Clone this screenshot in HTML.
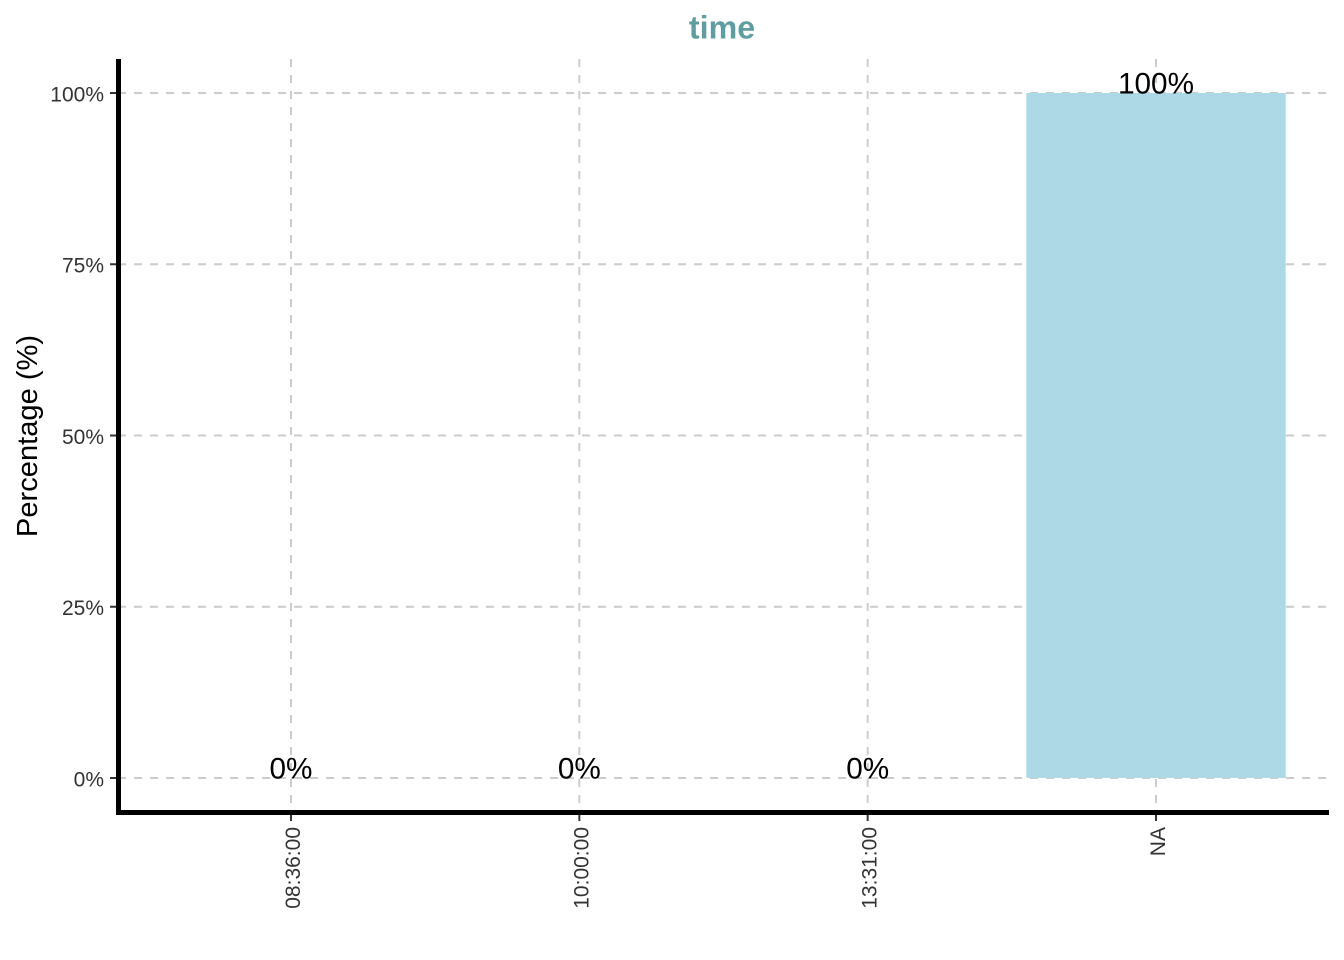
<!DOCTYPE html>
<html>
<head>
<meta charset="utf-8">
<title>time</title>
<style>
html,body{margin:0;padding:0;background:#fff;width:1344px;height:960px;overflow:hidden}
svg{display:block}
text{font-family:"Liberation Sans",sans-serif}
</style>
</head>
<body>
<svg id="chart" width="1344" height="960" viewBox="0 0 1344 960" xmlns="http://www.w3.org/2000/svg">
  <rect x="0" y="0" width="1344" height="960" fill="#ffffff"/>
  <text x="722" y="38.5" font-size="32.2" font-weight="bold" fill="#5f9ea0" text-anchor="middle">time</text>
  <text transform="translate(37,436) rotate(-90)" font-size="29.1" fill="#000000" text-anchor="middle">Percentage (%)</text>
  <g id="grid"></g>
  <g id="bars"></g>
  <g id="labels"></g>
  <g id="ticks"></g>
  <line x1="118.5" y1="59" x2="118.5" y2="815" stroke="#000000" stroke-width="5"/>
  <line x1="116" y1="812.5" x2="1329" y2="812.5" stroke="#000000" stroke-width="5"/>
</svg>
<script>
const categories = ['08:36:00', '10:00:00', '13:31:00', 'NA'];
const percentages = [0, 0, 0, 100];
const yTicks = [0, 25, 50, 75, 100];

const NS = 'http://www.w3.org/2000/svg';
const panelLeft = 118, panelRight = 1329, panelTop = 59, panelBottom = 812.5;
const unit = (panelRight - panelLeft) / (categories.length - 1 + 1.2);
function xScale(i) { return panelLeft + (0.6 + i) * unit; }
function yScale(v) { return 778 - (v / 100) * 685; }
function make(tag, attrs, parent) {
  const el = document.createElementNS(NS, tag);
  for (const k in attrs) el.setAttribute(k, attrs[k]);
  parent.appendChild(el);
  return el;
}
const grid = document.getElementById('grid');
const bars = document.getElementById('bars');
const labels = document.getElementById('labels');
const ticks = document.getElementById('ticks');
const gridStyle = { stroke: '#cccccc', 'stroke-width': 2, 'stroke-dasharray': '8 8' };

yTicks.forEach(function (t) {
  const y = yScale(t);
  const line = make('line', Object.assign({ x1: panelLeft, x2: panelRight, y1: y, y2: y }, gridStyle), grid);
  
  
  const tick = make('line', { x1: 110, x2: 116, y1: y, y2: y, stroke: '#333333', 'stroke-width': 2 }, ticks);
  
  
  const label = make('text', { x: 104, y: y + 8.3, 'font-size': 21, fill: '#333333', 'text-anchor': 'end' }, ticks);
  
  
  label.textContent = t + '%';
});

categories.forEach(function (c, i) {
  const x = xScale(i);
  const line = make('line', Object.assign({ x1: x, x2: x, y1: panelTop, y2: panelBottom }, gridStyle), grid);
  
  
  const tick = make('line', { x1: x, x2: x, y1: 815, y2: 821, stroke: '#333333', 'stroke-width': 2 }, ticks);
  
  
  const label = make('text', { transform: 'translate(' + (x + 9) + ',827) rotate(-90)', 'font-size': 21, fill: '#333333', 'text-anchor': 'end' }, ticks);
  
  
  label.textContent = c;

  const v = percentages[i];
  const w = unit * 0.9;
  const bar = make('rect', { x: x - w / 2, y: yScale(v), width: w, height: yScale(0) - yScale(v), fill: '#add8e6' }, bars);
  
  
  const value = make('text', { x: x, y: yScale(v) + 0.3, 'font-size': 29.7, fill: '#000000', 'text-anchor': 'middle' }, labels);
  
  
  value.textContent = v + '%';
});
</script>
</body>
</html>
